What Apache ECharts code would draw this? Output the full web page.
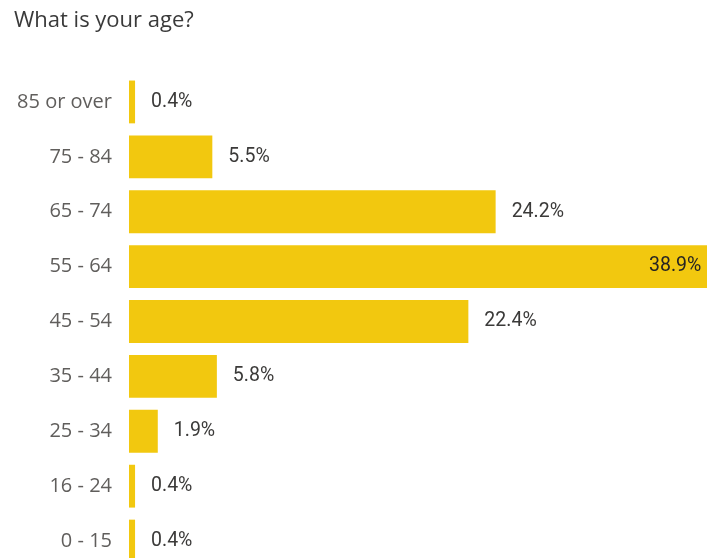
<!DOCTYPE html>
<html>
<head>
<meta charset="utf-8">
<script src="https://cdn.jsdelivr.net/npm/echarts@6/dist/echarts.min.js"></script>
<style>
  html, body { margin: 0; padding: 0; background: #fff; overflow: hidden; width: 707px; height: 558px; }
  /* canvas is a little larger than the page so the longest bar and last row run off the edge */
  #chart { width: 740px; height: 572px; }
</style>
</head>
<body>
<div id="chart"></div>
<script>
// Age groups, top to bottom as shown
const ageGroups = ['85 or over', '75 - 84', '65 - 74', '55 - 64', '45 - 54', '35 - 44', '25 - 34', '16 - 24', '0 - 15'];
// Share of respondents (%)
const shares = [0.4, 5.5, 24.2, 38.9, 22.4, 5.8, 1.9, 0.4, 0.4];

const chart = echarts.init(document.getElementById('chart'), null, { renderer: 'canvas' });

const barData = shares.map(function (v, i) {
  const item = { value: v };
  // The widest bar runs past the right edge, so its label sits inside
  if (v === Math.max.apply(null, shares)) {
    item.label = { position: 'insideRight', offset: [-1, 0], color: '#252423' };
  }
  return item;
});

chart.setOption({
  animation: false,
  title: {
    text: 'What is your age?',
    left: 9,
    top: 5,
    textStyle: { fontFamily: 'Open Sans', fontWeight: 'normal', fontSize: 22, color: '#3a3a3a' }
  },
  grid: { left: 129, top: 74.5, width: 606, height: 494, containLabel: false },
  xAxis: {
    type: 'value',
    min: 0,
    max: 40,
    show: false
  },
  yAxis: {
    type: 'category',
    data: ageGroups,
    inverse: true,
    axisLine: { show: false },
    axisTick: { show: false },
    axisLabel: {
      margin: 17,
      fontFamily: 'Open Sans',
      fontSize: 20,
      color: '#605e5c'
    }
  },
  series: [{
    type: 'bar',
    data: barData,
    barCategoryGap: '22%',
    itemStyle: { color: '#F2C80F' },
    label: {
      show: true,
      position: 'right',
      distance: 16,
      formatter: function (p) { return p.value.toFixed(1) + '%'; },
      fontFamily: 'Roboto',
      fontSize: 19.5,
      color: '#3b3a39'
    }
  }]
});
</script>
</body>
</html>
